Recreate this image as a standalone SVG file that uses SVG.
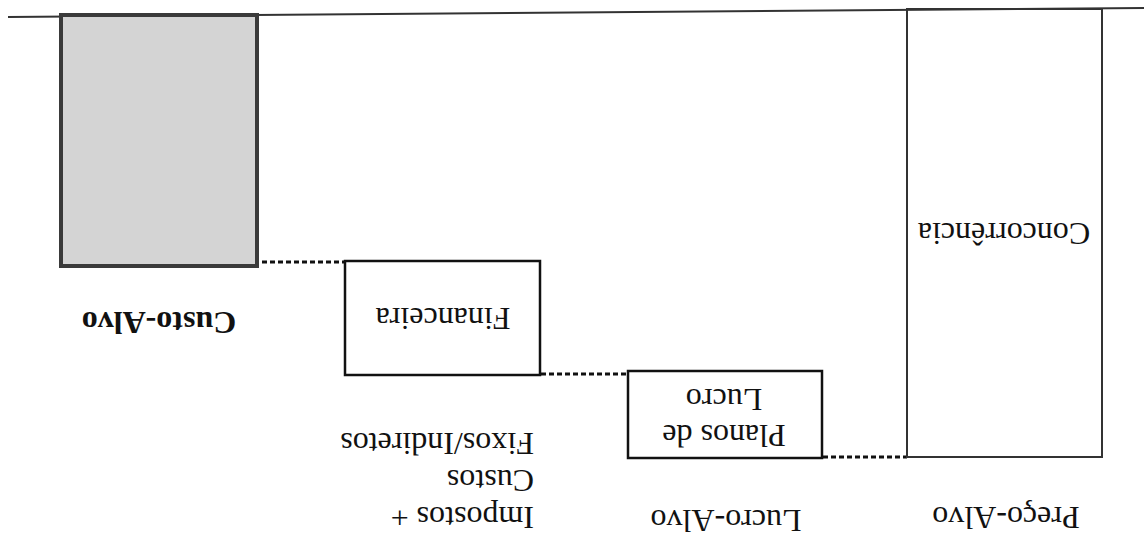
<svg xmlns="http://www.w3.org/2000/svg" width="1144" height="543" viewBox="0 0 1144 543">
<style>
text{font-family:"Liberation Serif","Times New Roman",serif;font-size:32px;fill:#111}
.b{font-weight:bold}
.box{fill:#fff;stroke:#111;stroke-width:2.5}
.dot{stroke:#111;stroke-width:3;stroke-dasharray:5 3;fill:none}
</style>
<rect width="1144" height="543" fill="#fff"/>
<g id="connectors">
<line x1="8" y1="17" x2="1144" y2="8" stroke="#333" stroke-width="2"/>
<line class="dot" x1="262" y1="262" x2="344" y2="262"/>
<line class="dot" x1="541" y1="374" x2="627" y2="374"/>
<line class="dot" x1="823" y1="457" x2="907" y2="457"/>
</g>
<g id="custo-alvo">
<rect x="61" y="15" width="196" height="251" fill="#d4d4d4" stroke="#3a3a3a" stroke-width="4"/>
<text class="b" text-anchor="middle" transform="translate(159,312) rotate(180)">Custo-Alvo</text>
</g>
<g id="financeira">
<rect class="box" x="345" y="261" width="195" height="114"/>
<text text-anchor="middle" transform="translate(443,308) rotate(180)">Financeira</text>
</g>
<g id="impostos">
<text transform="translate(534,433) rotate(180)">Fixos/Indiretos</text>
<text transform="translate(534,470) rotate(180)">Custos</text>
<text transform="translate(534,507) rotate(180)">Impostos +</text>
</g>
<g id="planos">
<rect class="box" x="628" y="371" width="194" height="87"/>
<text text-anchor="middle" transform="translate(724,425) rotate(180)">Planos de</text>
<text text-anchor="middle" transform="translate(724,389) rotate(180)">Lucro</text>
</g>
<g id="lucro-alvo">
<text text-anchor="middle" transform="translate(726,510) rotate(180)">Lucro-Alvo</text>
</g>
<g id="preco">
<rect x="907" y="9" width="195" height="448" fill="none" stroke="#333" stroke-width="2"/>
<text text-anchor="middle" transform="translate(1004,223) rotate(180)">Concorrência</text>
</g>
<g id="preco-alvo">
<text text-anchor="middle" transform="translate(1006,507) rotate(180)">Preço-Alvo</text>
</g>
</svg>
